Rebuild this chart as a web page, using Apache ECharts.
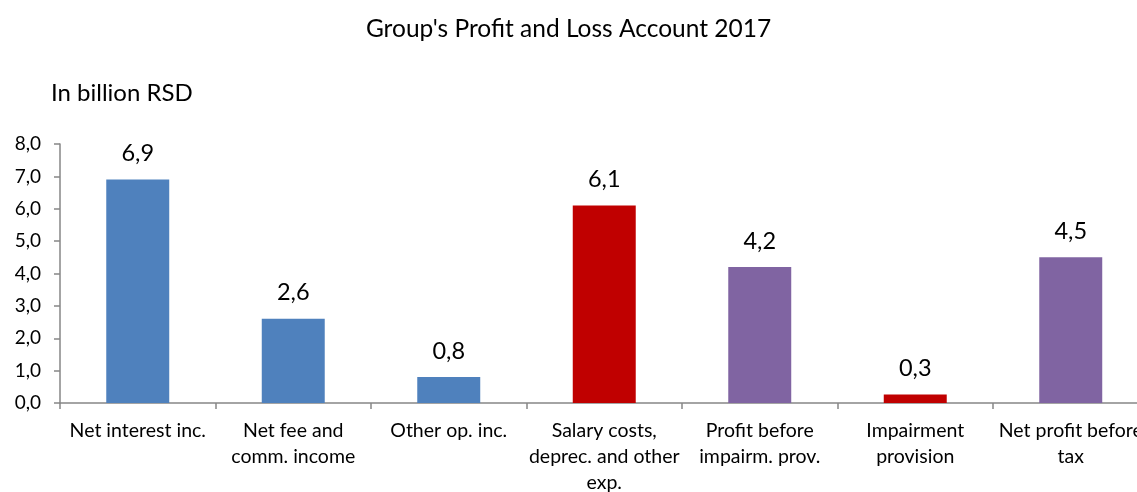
<!DOCTYPE html>
<html>
<head>
<meta charset="utf-8">
<script src="https://cdn.jsdelivr.net/npm/echarts@6/dist/echarts.min.js"></script>
<style>
html,body{margin:0;padding:0;background:#fff;}
#c{width:1137px;height:492px;}
</style>
</head>
<body>
<div id="c"></div>
<script>
var titleText = "Group's Profit and Loss Account 2017";
var unitText = "In billion RSD";
var categories = [
  "Net interest inc.",
  "Net fee and\ncomm. income",
  "Other op. inc.",
  "Salary costs,\ndeprec. and other\nexp.",
  "Profit before\nimpairm. prov.",
  "Impairment\nprovision",
  "Net profit before\ntax"
];
var values = [6.9, 2.6, 0.8, 6.1, 4.2, 0.26, 4.5];
var colors = ["#4F81BD", "#4F81BD", "#4F81BD", "#C00000", "#8064A2", "#C00000", "#8064A2"];
var yMin = 0, yMax = 8, yStep = 1;

var FONT = "Lato";
var chart = echarts.init(document.getElementById('c'), null, {renderer: 'canvas'});
chart.setOption({
  animation: false,
  backgroundColor: '#ffffff',
  title: [
    {text: titleText, left: 'center', top: 12,
     textStyle: {fontFamily: FONT, fontSize: 24.5, fontWeight: 'normal', color: '#000'}},
    {text: unitText, left: 46, top: 76,
     textStyle: {fontFamily: FONT, fontSize: 24, fontWeight: 'normal', color: '#000'}}
  ],
  grid: {left: 60, top: 144, bottom: 89, right: -11.5, containLabel: false, outerBoundsMode: 'none'},
  xAxis: {
    type: 'category',
    data: categories,
    axisLine: {lineStyle: {color: '#868686', width: 1.5}},
    axisTick: {show: true, alignWithLabel: false, length: 6, lineStyle: {color: '#868686', width: 1.5}},
    axisLabel: {fontFamily: FONT, fontSize: 19.5, color: '#000', lineHeight: 26, margin: 15, interval: 0, hideOverlap: false}
  },
  yAxis: {
    type: 'value',
    min: yMin, max: yMax, interval: yStep,
    axisLine: {show: true, lineStyle: {color: '#868686', width: 1.5}},
    axisTick: {show: true, length: 6, lineStyle: {color: '#868686', width: 1.5}},
    splitLine: {show: false},
    axisLabel: {fontFamily: FONT, fontSize: 19, color: '#000', margin: 19,
      formatter: function (v) { return v.toFixed(1).replace('.', ','); }}
  },
  series: [{
    type: 'bar',
    data: values.map(function (v, i) { return {value: v, itemStyle: {color: colors[i]}}; }),
    barWidth: '40.5%',
    label: {show: true, position: 'top', distance: 14, fontFamily: FONT, fontSize: 23.5, color: '#000',
      formatter: function (p) { return p.value.toFixed(1).replace('.', ','); }}
  }]
});
</script>
</body>
</html>
